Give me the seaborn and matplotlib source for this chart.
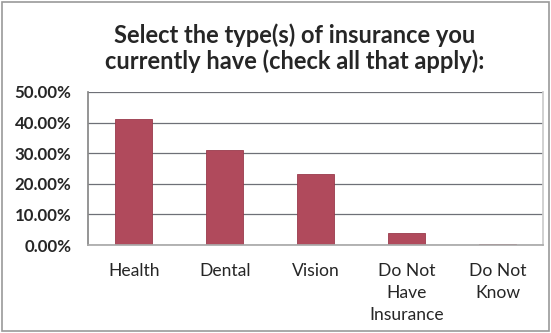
import numpy as np
import pandas as pd
import matplotlib.pyplot as plt
import seaborn as sns
from matplotlib.patches import Rectangle
from matplotlib.ticker import FuncFormatter, MultipleLocator

# data
categories = ['Health', 'Dental', 'Vision', 'Do Not\nHave\nInsurance', 'Do Not\nKnow']
shares = [41.2, 31.0, 23.1, 4.0, 0.3]

title = 'Select the type(s) of insurance you\ncurrently have (check all that apply):'

df = pd.DataFrame({'category': categories, 'share': shares})

sns.set_theme(style='white')
plt.rcParams['font.family'] = ['Lato', 'DejaVu Sans']

fig = plt.figure(figsize=(5.51, 3.33), dpi=100)
ax = fig.add_axes([0.16, 0.264, 0.826, 0.46])

sns.barplot(data=df, x='category', y='share', color='#B04A5C', width=0.41,
            edgecolor='#9A3A4C', linewidth=0.6, saturation=1, ax=ax)

ax.set_ylim(0, 50)
ax.set_xlim(-0.5, len(categories) - 0.5)
ax.yaxis.set_major_locator(MultipleLocator(10))
ax.yaxis.set_major_formatter(FuncFormatter(lambda v, p: f'{v:.2f}%'))
ax.grid(axis='y', color='#6E7077', linewidth=0.9)
ax.set_axisbelow(True)
ax.set_xlabel('')
ax.set_ylabel('')

# category boundary ticks along the bottom
ax.set_xticks(np.arange(len(categories)))
ax.set_xticks(np.arange(len(categories) + 1) - 0.5, minor=True)
ax.tick_params(axis='x', which='major', length=0, pad=13, labelsize=12.6)
ax.tick_params(axis='x', which='minor', length=4, color='#999999', width=0.8, direction='out')
ax.tick_params(axis='y', length=0, pad=12, labelsize=12.2)
for lbl in ax.get_yticklabels():
    lbl.set_fontweight('bold')
for lbl in ax.get_xticklabels():
    lbl.set_linespacing(1.45)

ax.spines['top'].set_visible(False)
ax.spines['left'].set_color('#888888')
ax.spines['bottom'].set_color('#AAAAAA')
ax.spines['right'].set_color('#CCCCCC')

fig.text(0.534, 0.856, title, ha='center', va='center', fontsize=17,
         fontweight='bold', linespacing=1.1)

fig.patches.append(Rectangle((0.004, 0.006), 0.992, 0.988, transform=fig.transFigure,
                             fill=False, edgecolor='#9A9A9A', linewidth=1.2))

fig.savefig('out.png', dpi=100)
